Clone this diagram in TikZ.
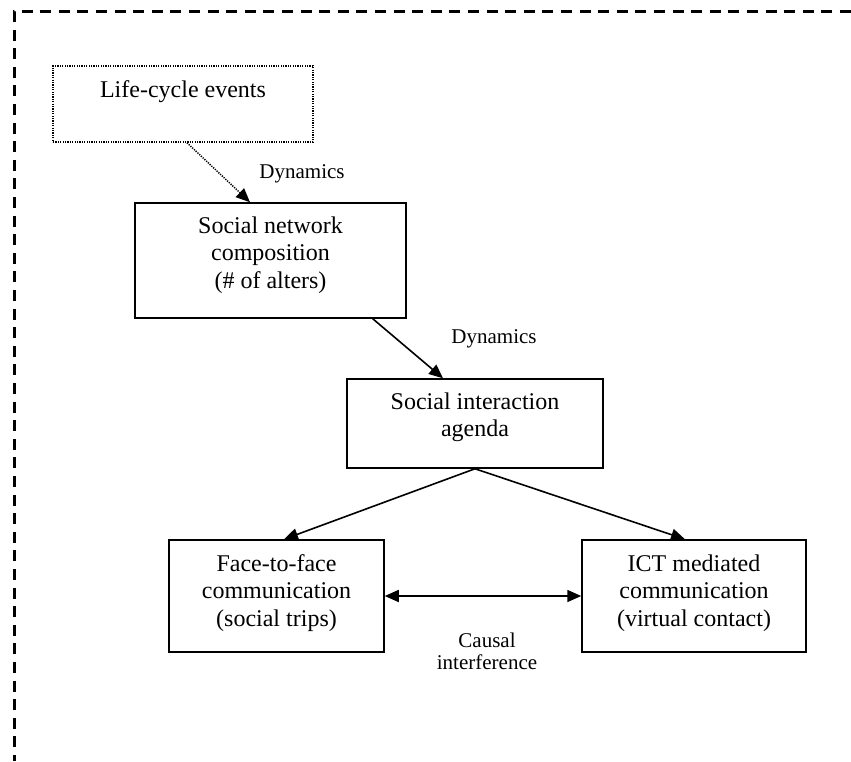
\documentclass[tikz,border=0pt]{standalone}
\usepackage{fontspec}
\setmainfont{Liberation Serif}
\usetikzlibrary{arrows.meta}

\begin{document}
\begin{tikzpicture}[x=0.5pt, y=-0.5pt,
		box/.style={draw, line width=0.75pt, inner sep=0pt},
		evtbox/.style={draw, line width=0.75pt, dash pattern=on 0.6pt off 0.6pt, inner sep=0pt},
		txt/.style={align=center, inner sep=0pt, font=\fontsize{12}{13.75}\selectfont},
		lbl/.style={align=center, inner sep=0pt, font=\fontsize{10.5}{11}\selectfont},
		link/.style={line width=0.8pt, -{Triangle[length=7pt, width=6pt]}},
		dotlink/.style={line width=0.75pt, dash pattern=on 0.6pt off 0.6pt, -{Triangle[length=7pt, width=6pt]}},
		frame/.style={line width=1.5pt, dash pattern=on 5.5pt off 3.8pt}]
			\useasboundingbox (0,0) rectangle (851,761);
			%   %   %   %   %   %   %   %   %   %   %
			%   Outer frame
				\draw[frame] (851,11) -- (14,11) -- (14,761);
			%   %   %   %   %   %   %   %   %   %   %
			%   Life-cycle events
				\node[evtbox, minimum width=130pt, minimum height=38pt,
					label={[txt, yshift=6pt]center:Life-cycle events}] (life) at (183,104) {};
			%   %   %   %   %   %   %   %   %   %   %
			%   Social network
				\node[box, minimum width=135.5pt, minimum height=57.5pt,
					label={[txt, yshift=2.75pt]center:Social network\\composition\\(\# of alters)}] (net) at (270.5,260.5) {};
			%   %   %   %   %   %   %   %   %   %   %
			%   Interaction agenda
				\node[box, minimum width=128pt, minimum height=44.5pt,
					label={[txt, yshift=3pt]center:Social interaction\\agenda}] (agenda) at (475,423.5) {};
			%   %   %   %   %   %   %   %   %   %   %
			%   Face-to-face
				\node[box, minimum width=107.5pt, minimum height=56pt,
					label={[txt, yshift=1.5pt]center:Face-to-face\\communication\\(social trips)}] (f2f) at (276.5,596) {};
			%   %   %   %   %   %   %   %   %   %   %
			%   ICT
				\node[box, minimum width=112pt, minimum height=56pt,
					label={[txt, yshift=1.5pt]center:ICT mediated\\communication\\(virtual contact)}] (ict) at (694,596) {};
			%   %   %   %   %   %   %   %   %   %   %
			%   Labels
				\node[lbl] (dyn1) at (302,174) {Dynamics};
				\node[lbl] (dyn2) at (494,339) {Dynamics};
				\node[lbl] (causal) at (487,651) {Causal\\interference};
			%   %   %   %   %   %   %   %   %   %   %
			%   Links
				\draw[dotlink] ([xshift=2pt]life.south) -- ([xshift=-10.25pt]net.north);
				\draw[link] ([xshift=-17pt]net.south east) -- ([xshift=-16pt]agenda.north);
				\draw[link] (agenda.south) -- ([xshift=3.75pt]f2f.north);
				\draw[link] (agenda.south) -- ([xshift=-4.5pt]ict.north);
				\draw[link, {Triangle[length=7pt, width=6pt]}-{Triangle[length=7pt, width=6pt]}] (f2f.east) -- (ict.west);
		\end{tikzpicture}
\end{document}
